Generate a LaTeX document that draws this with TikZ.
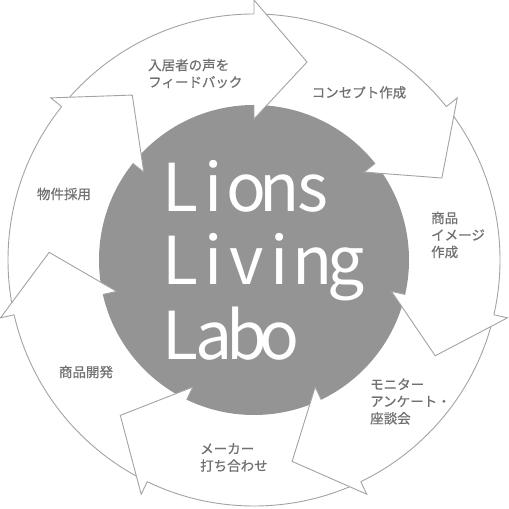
\documentclass[tikz,border=0pt]{standalone}
\usepackage{fontspec}
\setmainfont{Noto Sans CJK JP}
\newfontfamily\steplabelfont[FakeBold=0.6]{Noto Sans CJK JP}
\usetikzlibrary{calc}
\definecolor{ringline}{HTML}{A3A3A3}
\definecolor{hubgray}{HTML}{949494}
\definecolor{labelgray}{HTML}{707070}
\newcommand{\monocell}[1]{\makebox[0.5em]{#1}}
\begin{document}
\begin{tikzpicture}[x=1pt,y=1pt,
    steplabel/.style={text=labelgray,font=\steplabelfont\fontsize{13.5}{17}\selectfont,align=left,inner sep=0pt},
    hubword/.style={text=white,font=\fontsize{66}{74}\selectfont,inner sep=0pt,anchor=base west}]
      \useasboundingbox (0,0) rectangle (509,509);
      \coordinate (c) at (254,249);
      \draw[ringline,line width=0.9pt,fill=white] (c) circle (246);
      \fill[hubgray] (c) circle (155);
      \begin{scope}[ringline,line width=0.9pt]
        \foreach \k in {0,...,6}{
          \pgfmathsetmacro{\a}{90-\k*360/7}
          \fill[white] ($(c)+(\a:260)$) -- ($(c)+(\a-15:205)$) -- ($(c)+(\a:141)$) -- cycle;
          \draw ($(c)+(\a:246)$) -- ($(c)+(\a:260)$) -- ($(c)+(\a-15:205)$)
            -- ($(c)+(\a:141)$) -- ($(c)+(\a:155)$);
        }
      \end{scope}
      \draw
        (148,435.5) node[steplabel,anchor=west] (feedback){入居者の声を\\フィードバック}
        (359,416.5) node[steplabel] (concept){コンセプト作成}
        (431,274) node[steplabel,anchor=west] (image){商品\\イメージ\\作成}
        (370,107.5) node[steplabel,anchor=west] (monitor){モニター\\アンケート・\\座談会}
        (200,51.5) node[steplabel,anchor=west] (maker){メーカー\\打ち合わせ}
        (86,137) node[steplabel] (develop){商品開発}
        (64,315) node[steplabel] (adopt){物件採用};
      \draw
        (164,297) node[hubword] (lions){\monocell{L}\monocell{i}\monocell{o}\monocell{n}\monocell{s}}
        (164,224) node[hubword] (living){\monocell{L}\monocell{i}\monocell{v}\monocell{i}\monocell{n}\monocell{g}}
        (164,149) node[hubword] (labo){\monocell{L}\monocell{a}\monocell{b}\monocell{o}};
    \end{tikzpicture}
\end{document}
